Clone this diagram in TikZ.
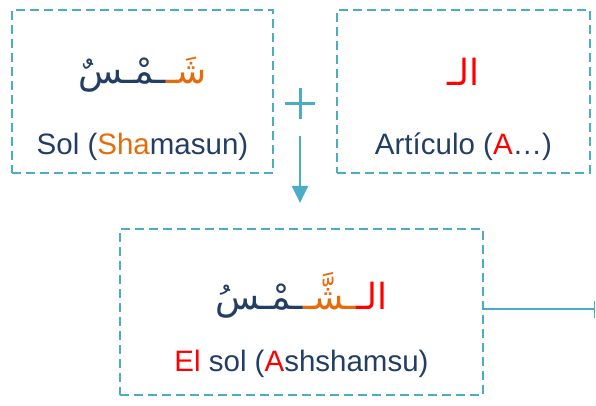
\documentclass[tikz,border=0pt]{standalone}
\usepackage{fontspec}
\setmainfont{Liberation Sans}
\newfontfamily\arabicfont[Script=Arabic]{DejaVu Sans}
\usetikzlibrary{arrows.meta}

\definecolor{boxTeal}{RGB}{75,172,198}
\definecolor{wordNavy}{RGB}{35,62,100}
\definecolor{sunOrange}{RGB}{228,108,10}
\definecolor{artRed}{RGB}{255,0,0}

\begin{document}
\begin{tikzpicture}[x=1pt, y=1pt,
        wordbox/.style={rectangle, draw=boxTeal, line width=2.2pt, dash pattern=on 9pt off 5pt},
        arabic/.style={font=\arabicfont\fontsize{36}{42}\selectfont, text=wordNavy, inner sep=0pt},
        gloss/.style={font=\fontsize{29.5}{34}\selectfont, text=wordNavy, inner sep=0pt},
        link/.style={draw=boxTeal, line width=2.5pt}
    ]
        \useasboundingbox (0,0) rectangle (596,405);

        \node[wordbox, minimum width=261pt, minimum height=163pt] (sun) at (142.5,313.5) {};
        \node[wordbox, minimum width=253pt, minimum height=163pt] (article) at (463.5,313.5) {};
        \node[wordbox, minimum width=363pt, minimum height=166pt] (result) at (301.5,93) {};

        % Arabic runs are set in visual order, one colour per run
        \node[arabic] (sunword) at ([yshift=17pt]sun.center) {\textcolor{wordNavy}{ـمْـسٌ}\textcolor{sunOrange}{شَـ}};
        \node[gloss] (sungloss) at ([yshift=-55pt]sun.center) {Sol (\textcolor{sunOrange}{Sha}masun)};

        \node[arabic, text=artRed] (artword) at ([yshift=20pt]article.center) {الـ};
        \node[gloss] (artgloss) at ([yshift=-55pt]article.center) {Artículo (\textcolor{artRed}{A}…)};

        \node[arabic] (resword) at ([yshift=17pt]result.center) {\textcolor{wordNavy}{ـمْـسُ}\textcolor{sunOrange}{ـشَّـ}\textcolor{artRed}{الـ}};
        \node[gloss] (resgloss) at ([yshift=-52pt]result.center) {\textcolor{artRed}{El} sol (\textcolor{artRed}{A}shshamsu)};

        % plus sign and arrow down
        \coordinate (plus) at (300,301.7);
        \draw[link, line width=3pt] ([xshift=-15pt]plus) -- ([xshift=15pt]plus);
        \draw[link, line width=3pt] ([yshift=15.5pt]plus) -- ([yshift=-15.5pt]plus);
        \coordinate (drop) at (plus |- result.north);
        \draw[link, -{Triangle[width=16pt,length=17pt]}] ([yshift=-33pt]plus) -- ([yshift=25pt]drop);

        % line out to the right
        \coordinate (edge) at (595,96);
        \draw[link, line width=2pt, -{Bar[width=17pt,line width=1.5pt]}] (result.east |- edge) -- (edge);
    \end{tikzpicture}
\end{document}
